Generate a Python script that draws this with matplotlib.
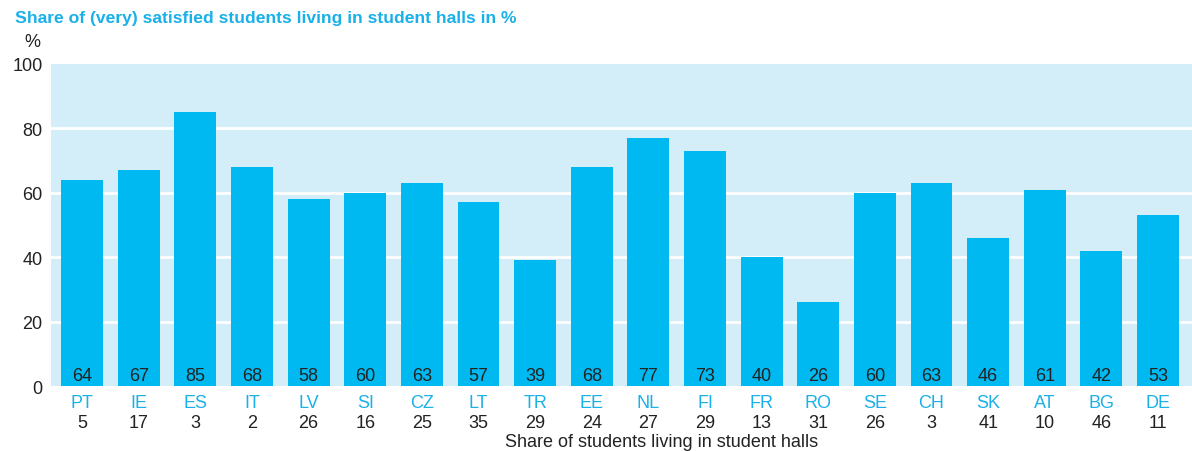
import matplotlib
matplotlib.use("Agg")
import matplotlib.pyplot as plt

countries = ["PT", "IE", "ES", "IT", "LV", "SI", "CZ", "LT", "TR", "EE",
             "NL", "FI", "FR", "RO", "SE", "CH", "SK", "AT", "BG", "DE"]
satisfied = [64, 67, 85, 68, 58, 60, 63, 57, 39, 68,
             77, 73, 40, 26, 60, 63, 46, 61, 42, 53]
share_in_halls = [5, 17, 3, 2, 26, 16, 25, 35, 29, 24,
                  27, 29, 13, 31, 26, 3, 41, 10, 46, 11]
yticks = [0, 20, 40, 60, 80, 100]

BLUE = "#00b9f1"
BG = "#d3eef9"
LABEL_BLUE = "#1ab0e8"
DARK = "#222222"

plt.rcParams["font.family"] = ["Liberation Sans", "DejaVu Sans"]

fig = plt.figure(figsize=(11.92, 4.52), dpi=100)
ax = fig.add_axes([0.0428, 0.1438, 0.9572, 0.7124])
ax.set_facecolor(BG)

x = list(range(len(countries)))
ax.bar(x, satisfied, width=0.74, color=BLUE, zorder=3)

for v in yticks[1:-1]:
    ax.axhline(v, color="white", lw=2, zorder=2)

ax.set_xlim(-0.55, len(countries) - 1 + 0.6)
ax.set_ylim(0, 100)
ax.set_yticks(yticks)
ax.set_yticklabels([str(v) for v in yticks], fontsize=13, color=DARK)
ax.tick_params(axis="y", length=0, pad=6)
ax.set_xticks([])
for s in ax.spines.values():
    s.set_visible(False)

for xi, v in zip(x, satisfied):
    ax.text(xi, 0.6, str(v), ha="center", va="bottom", fontsize=13,
            color=DARK, zorder=4)

trans = ax.get_xaxis_transform()
for xi, c, s in zip(x, countries, share_in_halls):
    ax.text(xi, -0.024, c, transform=trans, ha="center", va="top",
            fontsize=13, color=LABEL_BLUE)
    ax.text(xi, -0.086, str(s), transform=trans, ha="center", va="top",
            fontsize=13, color=DARK)

fig.text(0.555, 0.002, "Share of students living in student halls",
         ha="center", va="bottom", fontsize=13, color=DARK)
fig.text(0.027, 0.905, "%", ha="center", va="center", fontsize=13, color=DARK)
fig.text(0.013, 0.96, "Share of (very) satisfied students living in student halls in %",
         ha="left", va="center", fontsize=12.6, fontweight="bold",
         color=LABEL_BLUE)

fig.savefig("out.png", dpi=100)
